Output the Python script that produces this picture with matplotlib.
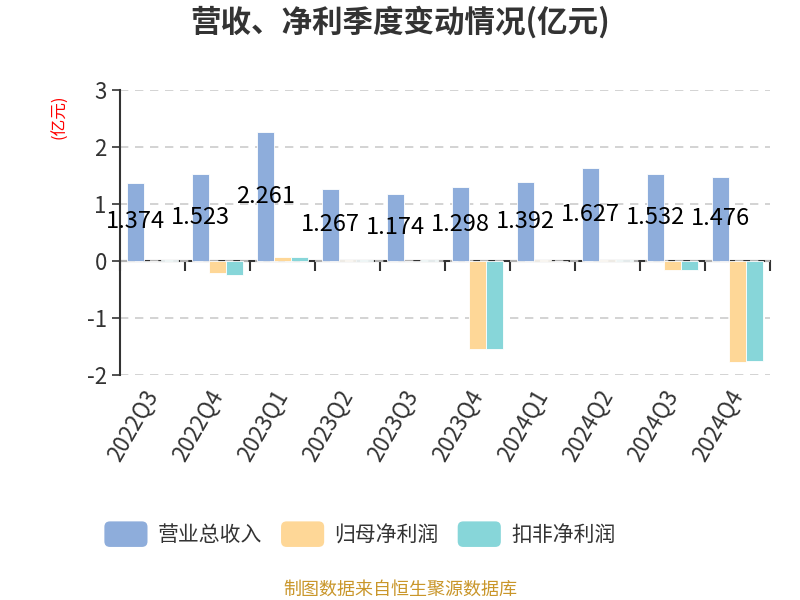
import numpy as np
import matplotlib
matplotlib.use("Agg")
import matplotlib.pyplot as plt
from matplotlib.patches import FancyBboxPatch, Patch
from matplotlib.legend_handler import HandlerPatch

plt.rcParams["font.family"] = ["Noto Sans CJK SC", "DejaVu Sans"]
plt.rcParams["axes.unicode_minus"] = False

quarters = ["2022Q3", "2022Q4", "2023Q1", "2023Q2", "2023Q3",
            "2023Q4", "2024Q1", "2024Q2", "2024Q3", "2024Q4"]
revenue = [1.374, 1.523, 2.261, 1.267, 1.174, 1.298, 1.392, 1.627, 1.532, 1.476]
net_profit = [0.005, -0.21, 0.07, 0.01, 0.005, -1.54, 0.01, 0.01, -0.16, -1.77]
net_profit_deducted = [0.01, -0.25, 0.07, 0.02, 0.01, -1.54, 0.005, 0.02, -0.16, -1.75]

series_names = ["营业总收入", "归母净利润", "扣非净利润"]
colors = ["#8eaddb", "#fed797", "#87d6d9"]


class RoundHandler(HandlerPatch):
    def create_artists(self, legend, orig_handle, xdescent, ydescent,
                       width, height, fontsize, trans):
        p = FancyBboxPatch((-xdescent, -ydescent - 2), width, height + 4,
                           boxstyle="round,pad=0,rounding_size=4",
                           facecolor=orig_handle.get_facecolor(),
                           edgecolor="none", transform=trans)
        return [p]


fig = plt.figure(figsize=(8, 6), dpi=100)
ax = fig.add_axes([0.15, 0.375, 0.8125, 0.475])

x = np.arange(len(quarters))
width = 0.25
offsets = [-0.26, 0, 0.26]
all_series = [revenue, net_profit, net_profit_deducted]

for vals, off, c in zip(all_series, offsets, colors):
    ax.bar(x + off, vals, width, color=c, edgecolor="white", linewidth=0.6, zorder=3)

rev_bars = ax.patches[:len(quarters)]
for bar, v in zip(rev_bars, revenue):
    ax.text(bar.get_x() + bar.get_width() / 2, v / 2, f"{v:.3f}",
            ha="center", va="center", fontsize=17, color="black", zorder=5)

ax.set_xlim(-0.5, len(quarters) - 0.5)
ax.set_ylim(-2, 3)
ax.set_yticks([-2, -1, 0, 1, 2, 3])
ax.yaxis.grid(True, linestyle=(0, (5, 4)), color="#cccccc", linewidth=1.2, zorder=0)
ax.tick_params(axis="y", labelsize=16, labelcolor="#333333", color="#333333",
               length=6, width=1.2)

ax.set_xticks(x)
ax.set_xticklabels(quarters, rotation=60, ha="right", va="center",
                   rotation_mode="anchor", fontsize=16, color="#333333")
ax.tick_params(axis="x", length=0, pad=12)

for s in ["top", "right", "bottom"]:
    ax.spines[s].set_visible(False)
ax.spines["left"].set_color("#333333")
ax.spines["left"].set_linewidth(1.5)

# axis line at zero with category boundary ticks
zero_ax = ax.secondary_xaxis(0.4)
zero_ax.set_xticks(np.arange(len(quarters) + 1) - 0.5)
zero_ax.tick_params(axis="x", direction="out", length=7, width=1.5,
                    color="#333333", labelbottom=False)
zero_ax.spines["bottom"].set_color("#333333")
zero_ax.spines["bottom"].set_linewidth(1.5)

fig.text(0.5, 0.963, "营收、净利季度变动情况(亿元)", ha="center", va="center",
         fontsize=22, fontweight="bold", color="#333333")
fig.text(0.075, 0.805, "(亿元)", ha="center", va="center", rotation=90,
         fontsize=12, color="red")

handles = [Patch(facecolor=c, label=n) for c, n in zip(colors, series_names)]
fig.legend(handles=handles, loc="center", bbox_to_anchor=(0.45, 0.108), ncol=3,
           frameon=False, fontsize=15, labelcolor="#333333",
           handlelength=2.07, handleheight=1.1, handletextpad=0.5,
           columnspacing=0.9,
           handler_map={Patch: RoundHandler()})

fig.text(0.5, 0.017, "制图数据来自恒生聚源数据库", ha="center", va="center",
         fontsize=13, color="#c9962a")

fig.savefig("out.png", dpi=100)
